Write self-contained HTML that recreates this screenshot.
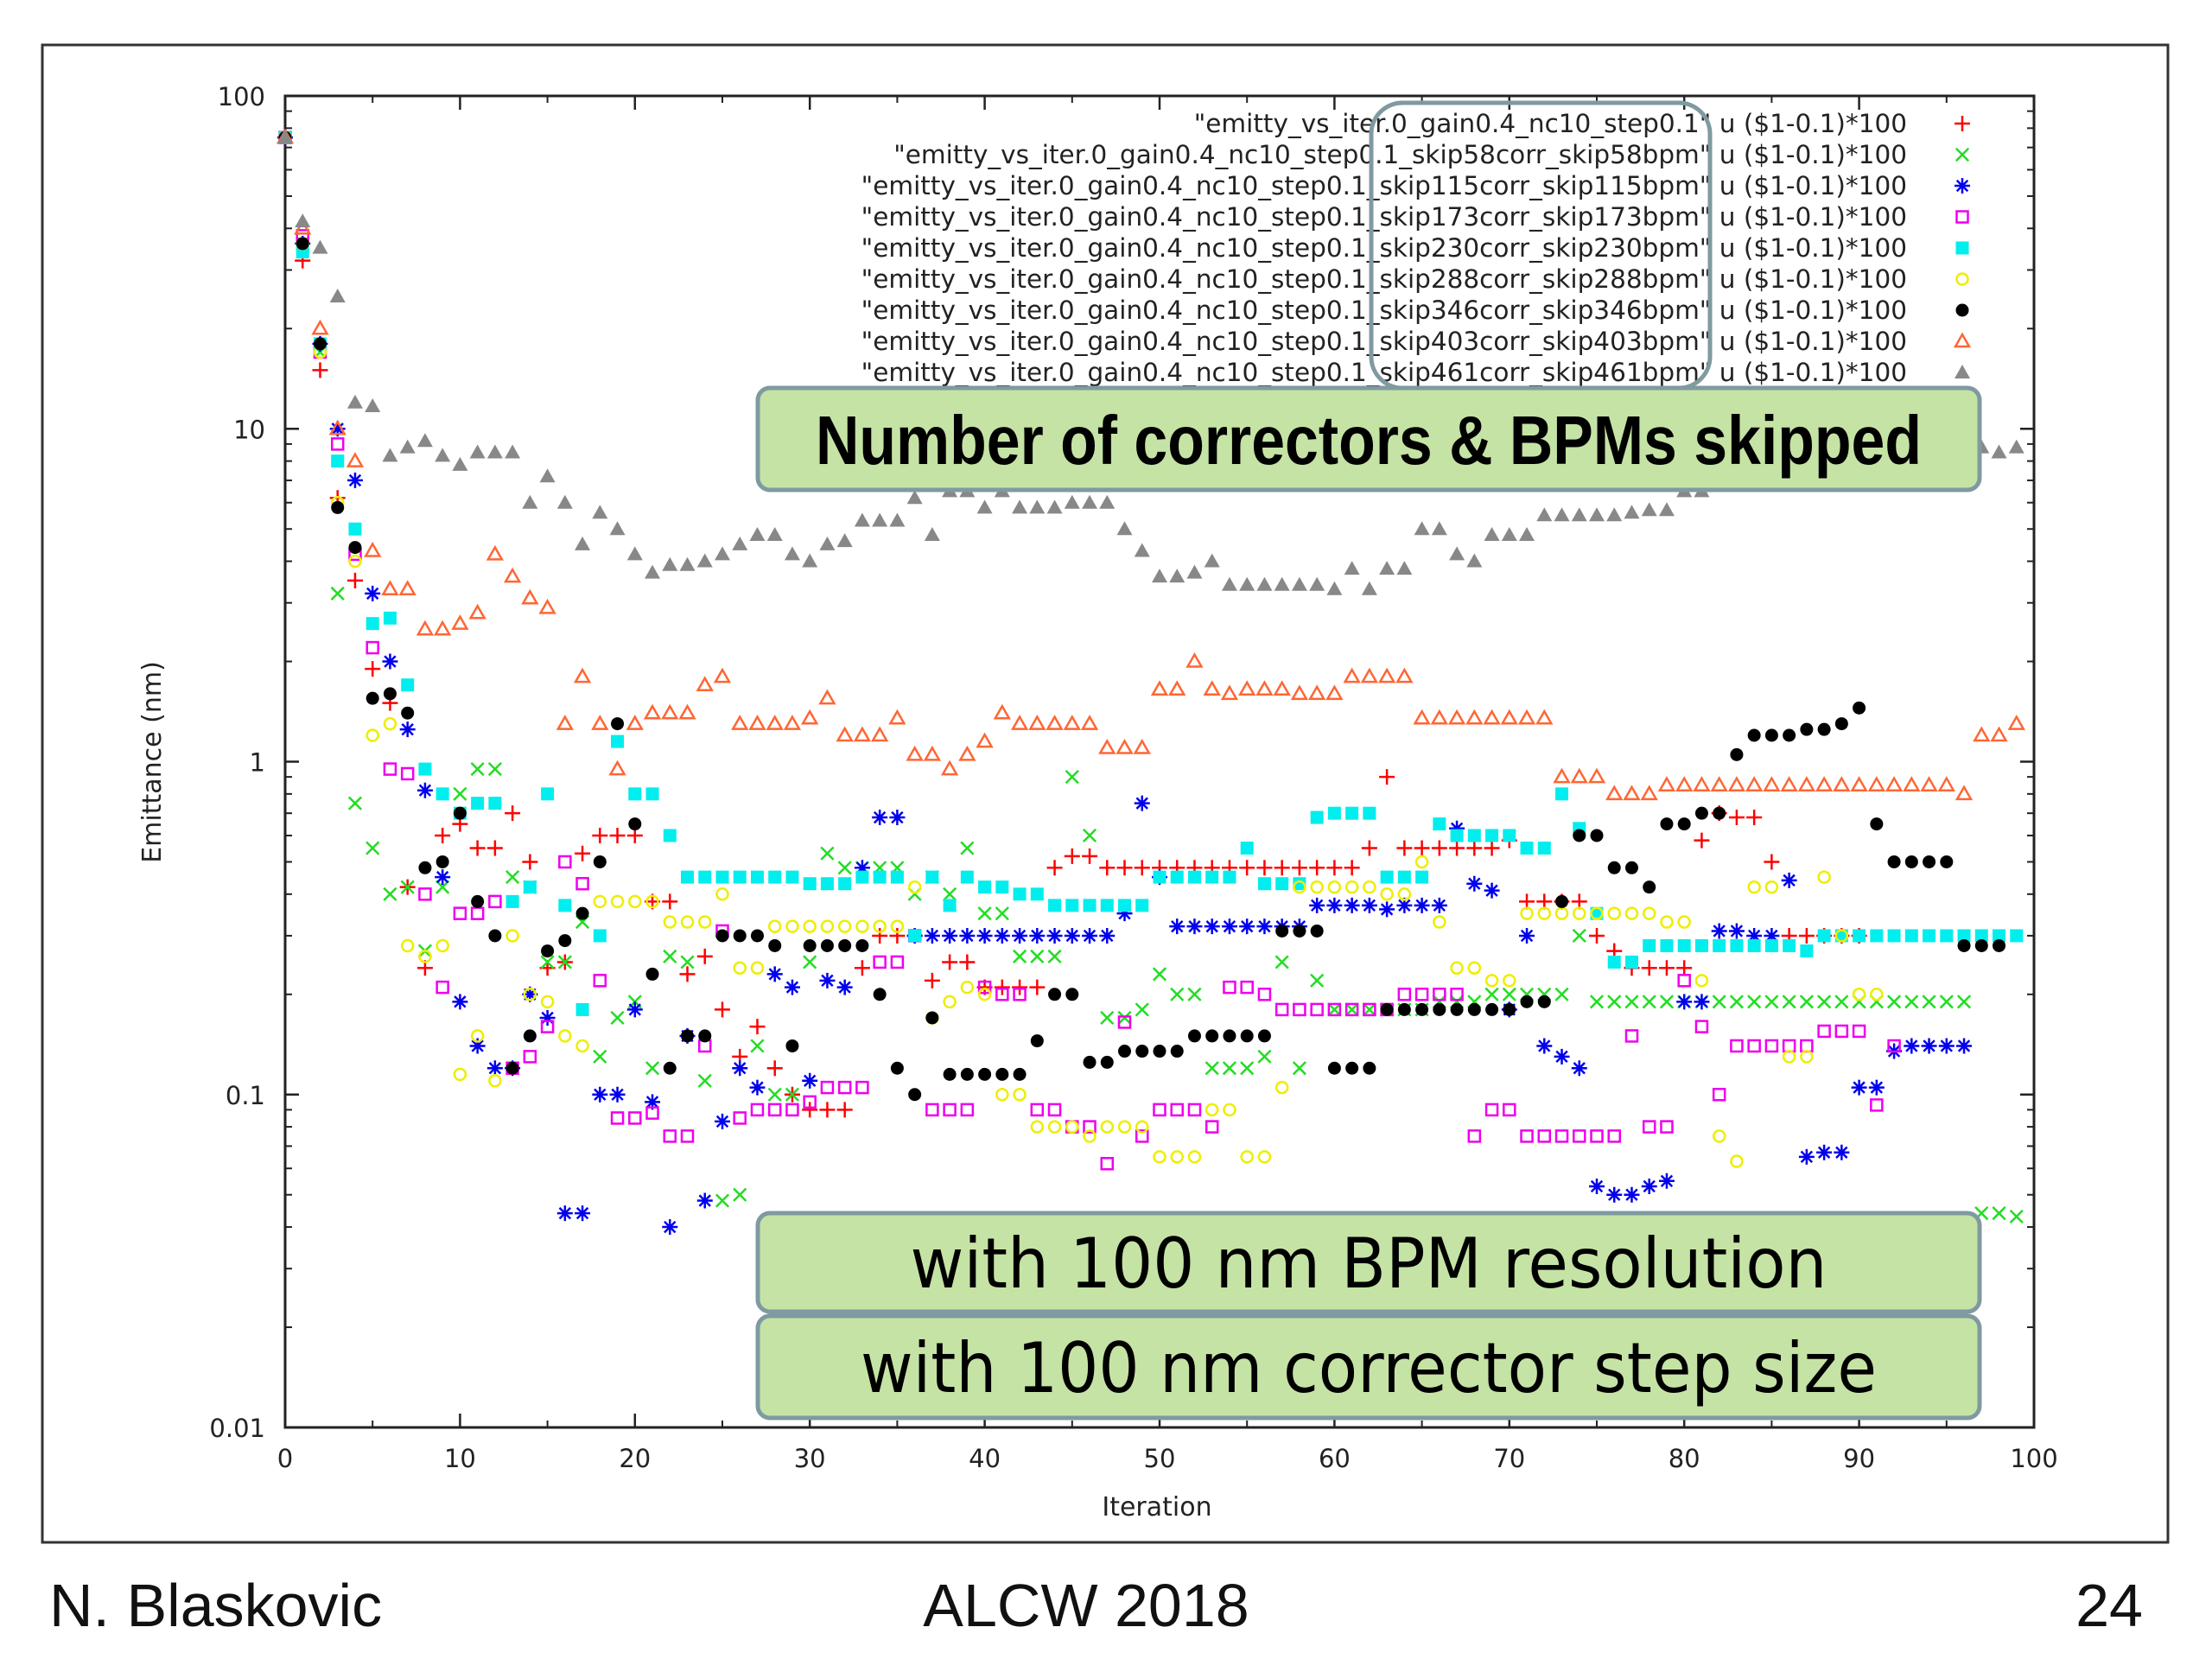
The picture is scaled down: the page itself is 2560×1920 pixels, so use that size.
<!DOCTYPE html>
<html><head><meta charset="utf-8"><style>
body{margin:0;background:#fff;width:2560px;height:1920px;overflow:hidden;font-family:"Liberation Sans","DejaVu Sans",sans-serif}
svg{position:absolute;left:0;top:0}
.foot{position:absolute;top:1818px;font-size:70px;color:#111}
</style></head><body>
<svg id="chart" width="2560" height="1920"></svg>
<div class="foot" style="left:57px">N. Blaskovic</div>
<div class="foot" style="left:1257px;transform:translateX(-50%)">ALCW 2018</div>
<div class="foot" style="right:80px">24</div>
<script>
const xTicks=[0,10,20,30,40,50,60,70,80,90,100];
const yTicks=[0.01,0.1,1,10,100];
const yTickLabels=["0.01","0.1","1","10","100"];
const seriesNames=["\"emitty_vs_iter.0_gain0.4_nc10_step0.1\" u ($1-0.1)*100","\"emitty_vs_iter.0_gain0.4_nc10_step0.1_skip58corr_skip58bpm\" u ($1-0.1)*100","\"emitty_vs_iter.0_gain0.4_nc10_step0.1_skip115corr_skip115bpm\" u ($1-0.1)*100","\"emitty_vs_iter.0_gain0.4_nc10_step0.1_skip173corr_skip173bpm\" u ($1-0.1)*100","\"emitty_vs_iter.0_gain0.4_nc10_step0.1_skip230corr_skip230bpm\" u ($1-0.1)*100","\"emitty_vs_iter.0_gain0.4_nc10_step0.1_skip288corr_skip288bpm\" u ($1-0.1)*100","\"emitty_vs_iter.0_gain0.4_nc10_step0.1_skip346corr_skip346bpm\" u ($1-0.1)*100","\"emitty_vs_iter.0_gain0.4_nc10_step0.1_skip403corr_skip403bpm\" u ($1-0.1)*100","\"emitty_vs_iter.0_gain0.4_nc10_step0.1_skip461corr_skip461bpm\" u ($1-0.1)*100"];
const seriesColors=["#ff0000","#22dd22","#0000ee","#ee00ee","#00eeee","#eeee00","#000000","#ff6633","#888888"];
const seriesMarkers=["plus","cross","star","sqo","sqf","circo","circf","trio","trif"];
const sRed=[75,32,15,6.2,3.5,1.9,1.5,0.42,0.24,0.6,0.65,0.55,0.55,0.7,0.5,0.24,0.25,0.53,0.6,0.6,0.6,0.38,0.38,0.23,0.26,0.18,0.13,0.16,0.12,0.1,0.09,0.09,0.09,0.24,0.3,0.3,0.3,0.22,0.25,0.25,0.21,0.21,0.21,0.21,0.48,0.52,0.52,0.48,0.48,0.48,0.48,0.48,0.48,0.48,0.48,0.48,0.48,0.48,0.48,0.48,0.48,0.48,0.55,0.9,0.55,0.55,0.55,0.55,0.55,0.55,0.58,0.38,0.38,0.38,0.38,0.3,0.27,0.24,0.24,0.24,0.24,0.58,0.7,0.68,0.68,0.5,0.3,0.3,0.3,0.3,0.3];
const sGreen=[75,36,17,3.2,0.75,0.55,0.4,0.42,0.27,0.42,0.8,0.95,0.95,0.45,0.42,0.25,0.25,0.33,0.13,0.17,0.19,0.12,0.26,0.25,0.11,0.048,0.05,0.14,0.1,0.1,0.25,0.53,0.48,0.48,0.48,0.48,0.4,0.45,0.4,0.55,0.35,0.35,0.26,0.26,0.26,0.9,0.6,0.17,0.17,0.18,0.23,0.2,0.2,0.12,0.12,0.12,0.13,0.25,0.12,0.22,0.18,0.18,0.18,0.18,0.18,0.18,0.19,0.19,0.19,0.2,0.2,0.2,0.2,0.2,0.3,0.19,0.19,0.19,0.19,0.19,0.19,0.19,0.19,0.19,0.19,0.19,0.19,0.19,0.19,0.19,0.19,0.19,0.19,0.19,0.19,0.19,0.19,0.044,0.044,0.043];
const sBlue=[75,36,18,10,7,3.2,2,1.25,0.82,0.45,0.19,0.14,0.12,0.12,0.2,0.17,0.044,0.044,0.1,0.1,0.18,0.095,0.04,0.15,0.048,0.083,0.12,0.105,0.23,0.21,0.11,0.22,0.21,0.48,0.68,0.68,0.3,0.3,0.3,0.3,0.3,0.3,0.3,0.3,0.3,0.3,0.3,0.3,0.35,0.75,0.45,0.32,0.32,0.32,0.32,0.32,0.32,0.32,0.32,0.37,0.37,0.37,0.37,0.36,0.37,0.37,0.37,0.63,0.43,0.41,0.18,0.3,0.14,0.13,0.12,0.053,0.05,0.05,0.053,0.055,0.19,0.19,0.31,0.31,0.3,0.3,0.44,0.065,0.067,0.067,0.105,0.105,0.135,0.14,0.14,0.14,0.14];
const sMagenta=[75,38,17,9,4.2,2.2,0.95,0.92,0.4,0.21,0.35,0.35,0.38,0.12,0.13,0.16,0.5,0.43,0.22,0.085,0.085,0.088,0.075,0.075,0.14,0.31,0.085,0.09,0.09,0.09,0.095,0.105,0.105,0.105,0.25,0.25,0.3,0.09,0.09,0.09,0.21,0.2,0.2,0.09,0.09,0.08,0.08,0.062,0.165,0.075,0.09,0.09,0.09,0.08,0.21,0.21,0.2,0.18,0.18,0.18,0.18,0.18,0.18,0.18,0.2,0.2,0.2,0.2,0.075,0.09,0.09,0.075,0.075,0.075,0.075,0.075,0.075,0.15,0.08,0.08,0.22,0.16,0.1,0.14,0.14,0.14,0.14,0.14,0.155,0.155,0.155,0.093,0.14];
const sCyan=[75,34,18,8,5,2.6,2.7,1.7,0.95,0.8,0.7,0.75,0.75,0.38,0.42,0.8,0.37,0.18,0.3,1.15,0.8,0.8,0.6,0.45,0.45,0.45,0.45,0.45,0.45,0.45,0.43,0.43,0.43,0.45,0.45,0.45,0.3,0.45,0.37,0.45,0.42,0.42,0.4,0.4,0.37,0.37,0.37,0.37,0.37,0.37,0.45,0.45,0.45,0.45,0.45,0.55,0.43,0.43,0.43,0.68,0.7,0.7,0.7,0.45,0.45,0.45,0.65,0.6,0.6,0.6,0.6,0.55,0.55,0.8,0.63,0.35,0.25,0.25,0.28,0.28,0.28,0.28,0.28,0.28,0.28,0.28,0.28,0.27,0.3,0.3,0.3,0.3,0.3,0.3,0.3,0.3,0.3,0.3,0.3,0.3];
const sYellow=[75,36,17,6,4,1.2,1.3,0.28,0.26,0.28,0.115,0.15,0.11,0.3,0.2,0.19,0.15,0.14,0.38,0.38,0.38,0.38,0.33,0.33,0.33,0.4,0.24,0.24,0.32,0.32,0.32,0.32,0.32,0.32,0.32,0.32,0.42,0.17,0.19,0.21,0.2,0.1,0.1,0.08,0.08,0.08,0.075,0.08,0.08,0.08,0.065,0.065,0.065,0.09,0.09,0.065,0.065,0.105,0.42,0.42,0.42,0.42,0.42,0.4,0.4,0.5,0.33,0.24,0.24,0.22,0.22,0.35,0.35,0.35,0.35,0.35,0.35,0.35,0.35,0.33,0.33,0.22,0.075,0.063,0.42,0.42,0.13,0.13,0.45,0.3,0.2,0.2];
const sBlack=[75,36,18,5.8,4.4,1.55,1.6,1.4,0.48,0.5,0.7,0.38,0.3,0.12,0.15,0.27,0.29,0.35,0.5,1.3,0.65,0.23,0.12,0.15,0.15,0.3,0.3,0.3,0.28,0.14,0.28,0.28,0.28,0.28,0.2,0.12,0.1,0.17,0.115,0.115,0.115,0.115,0.115,0.145,0.2,0.2,0.125,0.125,0.135,0.135,0.135,0.135,0.15,0.15,0.15,0.15,0.15,0.31,0.31,0.31,0.12,0.12,0.12,0.18,0.18,0.18,0.18,0.18,0.18,0.18,0.18,0.19,0.19,0.38,0.6,0.6,0.48,0.48,0.42,0.65,0.65,0.7,0.7,1.05,1.2,1.2,1.2,1.25,1.25,1.3,1.45,0.65,0.5,0.5,0.5,0.5,0.28,0.28,0.28];
const sOrange=[75,40,20,10,8,4.3,3.3,3.3,2.5,2.5,2.6,2.8,4.2,3.6,3.1,2.9,1.3,1.8,1.3,0.95,1.3,1.4,1.4,1.4,1.7,1.8,1.3,1.3,1.3,1.3,1.35,1.55,1.2,1.2,1.2,1.35,1.05,1.05,0.95,1.05,1.15,1.4,1.3,1.3,1.3,1.3,1.3,1.1,1.1,1.1,1.65,1.65,2.0,1.65,1.6,1.65,1.65,1.65,1.6,1.6,1.6,1.8,1.8,1.8,1.8,1.35,1.35,1.35,1.35,1.35,1.35,1.35,1.35,0.9,0.9,0.9,0.8,0.8,0.8,0.85,0.85,0.85,0.85,0.85,0.85,0.85,0.85,0.85,0.85,0.85,0.85,0.85,0.85,0.85,0.85,0.85,0.8,1.2,1.2,1.3];
const sGray=[75,42,35,25,12,11.7,8.3,8.8,9.2,8.3,7.8,8.5,8.5,8.5,6,7.2,6,4.5,5.6,5,4.2,3.7,3.9,3.9,4,4.2,4.5,4.8,4.8,4.2,4,4.5,4.6,5.3,5.3,5.3,6.2,4.8,6.5,6.5,5.8,6.5,5.8,5.8,5.8,6,6,6,5,4.3,3.6,3.6,3.7,4,3.4,3.4,3.4,3.4,3.4,3.4,3.3,3.8,3.3,3.8,3.8,5,5,4.2,4,4.8,4.8,4.8,5.5,5.5,5.5,5.5,5.5,5.6,5.7,5.7,6.5,6.5,7,7,7,7,7,7,7,7,7.5,7.5,8,8,8,8,8,8.8,8.5,8.8];
const allSeries=[sRed,sGreen,sBlue,sMagenta,sCyan,sYellow,sBlack,sOrange,sGray];

const NS="http://www.w3.org/2000/svg";
const svg=document.getElementById('chart');
const L=330,R=2354,T=111,B=1652;
const xs=v=>L+(v/100)*(R-L);
const ys=v=>T+(2-Math.log10(v))/4*(B-T);
function mk(tag,attrs,parent){const e=document.createElementNS(NS,tag);for(const k in attrs)e.setAttribute(k,attrs[k]);(parent||svg).appendChild(e);return e;}
const DJ='"DejaVu Sans","Liberation Sans",sans-serif';

const frame=mk('rect',{x:49,y:52,width:2460,height:1733,fill:'none',stroke:'#333','stroke-width':3});


const plot=mk('rect',{x:L,y:T,width:R-L,height:B-T,fill:'none',stroke:'#222','stroke-width':3});



xTicks.forEach((t,i)=>{const x=xs(t);
 mk('line',{x1:x,y1:B,x2:x,y2:B-16,stroke:'#222','stroke-width':2.5});
 mk('line',{x1:x,y1:T,x2:x,y2:T+16,stroke:'#222','stroke-width':2.5});
 if(i<xTicks.length-1){const xm=xs(t+5);
  mk('line',{x1:xm,y1:B,x2:xm,y2:B-8,stroke:'#222','stroke-width':2});
  mk('line',{x1:xm,y1:T,x2:xm,y2:T+8,stroke:'#222','stroke-width':2});}
 const tl=mk('text',{x:x,y:1698,'font-size':29,'text-anchor':'middle',fill:'#222','font-family':DJ});tl.textContent=t;
 
 
});
yTicks.forEach((t,i)=>{const y=ys(t);
 mk('line',{x1:L,y1:y,x2:L+16,y2:y,stroke:'#222','stroke-width':2.5});
 mk('line',{x1:R,y1:y,x2:R-16,y2:y,stroke:'#222','stroke-width':2.5});
 if(i<yTicks.length-1){for(let m=2;m<10;m++){const ym=ys(t*m);
  mk('line',{x1:L,y1:ym,x2:L+8,y2:ym,stroke:'#222','stroke-width':2});
  mk('line',{x1:R,y1:ym,x2:R-8,y2:ym,stroke:'#222','stroke-width':2});}}
 const tl=mk('text',{x:307,y:y+11,'font-size':29,'text-anchor':'end',fill:'#222','font-family':DJ});tl.textContent=yTickLabels[i];
 
 
});
const xt=mk('text',{x:1339,y:1754,'font-size':30,'text-anchor':'middle',fill:'#222','font-family':DJ});xt.textContent='Iteration';


const yt=mk('text',{x:0,y:0,'font-size':30,'text-anchor':'middle',fill:'#222','font-family':DJ,transform:'translate(186,882) rotate(-90)'});yt.textContent='Emittance (nm)';



function marker(type,color,x,y,g){const s=9;
 switch(type){
 case 'plus':mk('path',{d:`M${x-s} ${y}H${x+s}M${x} ${y-s}V${y+s}`,stroke:color,'stroke-width':2.5},g);break;
 case 'cross':mk('path',{d:`M${x-s*.8} ${y-s*.8}L${x+s*.8} ${y+s*.8}M${x-s*.8} ${y+s*.8}L${x+s*.8} ${y-s*.8}`,stroke:color,'stroke-width':2.5},g);break;
 case 'star':mk('path',{d:`M${x-s} ${y}H${x+s}M${x} ${y-s}V${y+s}M${x-s*.7} ${y-s*.7}L${x+s*.7} ${y+s*.7}M${x-s*.7} ${y+s*.7}L${x+s*.7} ${y-s*.7}`,stroke:color,'stroke-width':2.5},g);break;
 case 'sqo':mk('rect',{x:x-6.5,y:y-6.5,width:13,height:13,fill:'none',stroke:color,'stroke-width':2.5},g);break;
 case 'sqf':mk('rect',{x:x-7.5,y:y-7.5,width:15,height:15,fill:color},g);break;
 case 'circo':mk('circle',{cx:x,cy:y,r:6.5,fill:'none',stroke:color,'stroke-width':2.5},g);break;
 case 'circf':mk('circle',{cx:x,cy:y,r:7.5,fill:color},g);break;
 case 'trio':mk('path',{d:`M${x} ${y-8}L${x+8} ${y+6}L${x-8} ${y+6}Z`,fill:'none',stroke:color,'stroke-width':2.5},g);break;
 case 'trif':mk('path',{d:`M${x} ${y-9}L${x+9} ${y+7}L${x-9} ${y+7}Z`,fill:color},g);break;}
}
allSeries.forEach((arr,si)=>{const g=mk('g',{});
 
 
 arr.forEach((v,i)=>{if(v==null)return;marker(seriesMarkers[si],seriesColors[si],xs(i),ys(v),g);});
});
seriesNames.forEach((n,i)=>{const y=143+i*36;
 const g=mk('g',{});
 
 
 const t=mk('text',{x:2207,y:y+10,'font-size':29.5,'text-anchor':'end',fill:'#222','font-family':DJ},g);t.textContent=n;
 marker(seriesMarkers[i],seriesColors[i],2271,y,g);
});
const hl=mk('rect',{x:1587,y:119,width:392,height:330,rx:36,fill:'none',stroke:'#7f9aa0','stroke-width':5});


function box(x,y,w,h,txt,fs,bold,name,tw){const g=mk('g',{});
 
 
 mk('rect',{x,y,width:w,height:h,rx:14,fill:'#c5e3a5',stroke:'#7f9aa0','stroke-width':5},g);
 const t=mk('text',{x:x+w/2,y:y+h/2+fs*0.36,'font-size':fs,'text-anchor':'middle',fill:'#000','font-weight':bold?'bold':'normal',textLength:tw,lengthAdjust:'spacingAndGlyphs','font-family':bold?'"Liberation Sans Narrow","Liberation Sans",sans-serif':DJ},g);t.textContent=txt;}
box(877,449,1414,118,'Number of correctors & BPMs skipped',80,true,'annotation-skipped',1280);
box(877,1404,1414,114,'with 100 nm BPM resolution',80,false,'annotation-bpm-resolution',1061);
box(877,1523,1414,118,'with 100 nm corrector step size',80,false,'annotation-corrector-step',1176);
</script>
</body></html>
